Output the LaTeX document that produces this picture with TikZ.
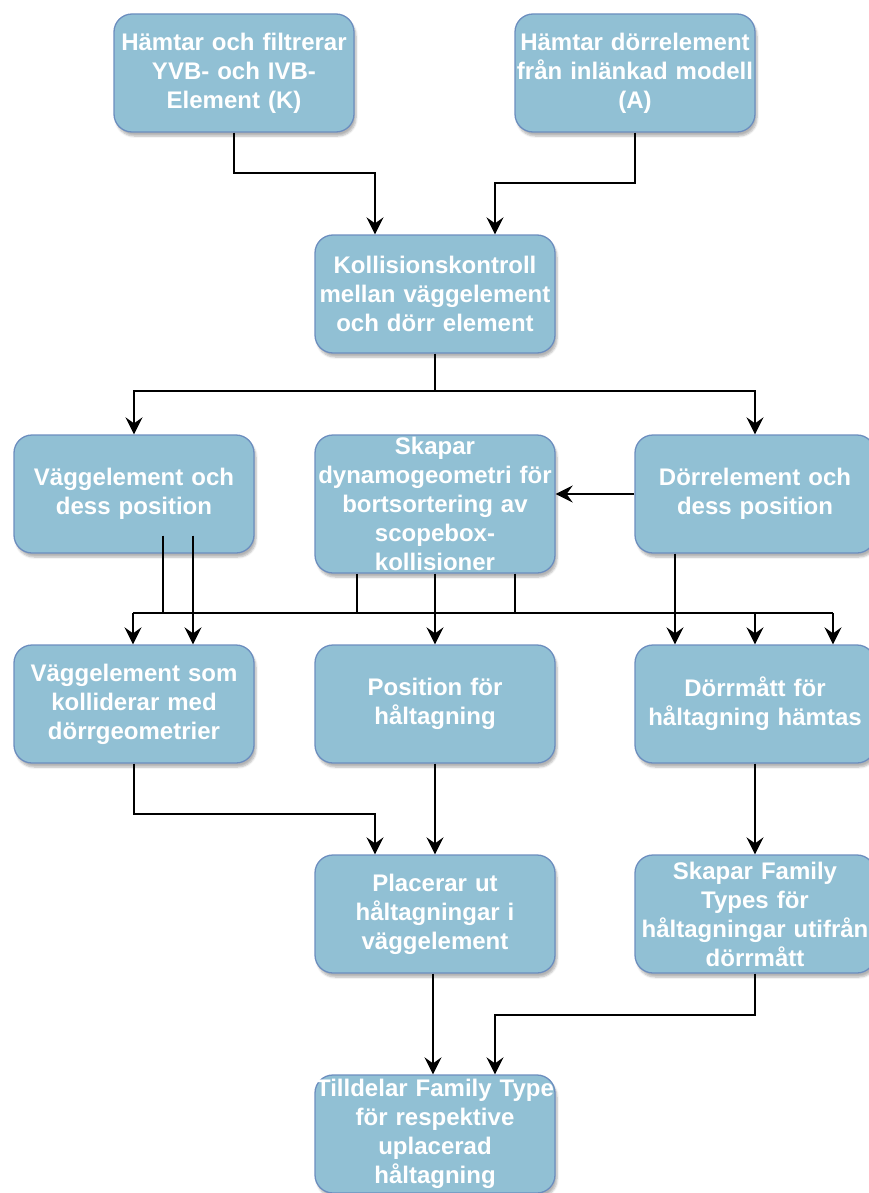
\documentclass[tikz,border=0pt]{standalone}
\usepackage{fontspec}
\setmainfont{Liberation Sans}
\usetikzlibrary{arrows.meta,shadows.blur}

\definecolor{boxfill}{RGB}{145,192,212}
\definecolor{boxline}{RGB}{108,142,191}

\begin{document}
\begin{tikzpicture}[x=1pt,y=-1pt,
  box/.style={draw=boxline, line width=1.3pt, fill=boxfill, rounded corners=18pt,
    minimum width=240pt, minimum height=118pt, text width=240pt, align=center,
    inner sep=0pt, text=white, font=\fontsize{24}{29}\selectfont\bfseries,
    blur shadow={shadow xshift=2pt, shadow yshift=-4pt, shadow blur steps=6, shadow opacity=30}},
  ln/.style={line width=2pt, line join=miter},
  arr/.style={ln, -{Stealth[length=17pt,width=17pt,inset=6pt]}}]

\useasboundingbox (0,0) rectangle (869,1193);

% process boxes
\node[box] (t1) at (234,73)  {Hämtar och filtrerar\\YVB- och IVB-\\Element (K)};
\node[box] (t2) at (635,73)  {Hämtar dörrelement\\från inlänkad modell\\(A)};
\node[box] (kk) at (435,294) {Kollisionskontroll\\mellan väggelement\\och dörr element};

\node[box] (va) at (134,494) {Väggelement och\\dess position};
\node[box, minimum height=138pt] (sk) at (435,504) {Skapar\\dynamogeometri för\\bortsortering av\\scopebox-\\kollisioner};
\node[box] (da) at (755,494) {Dörrelement och\\dess position};

\node[box] (vk) at (134,704) {Väggelement som\\kolliderar med\\dörrgeometrier};
\node[box] (po) at (435,704) {Position för\\håltagning};
\node[box] (dm) at (755,704) {Dörrmått för\\håltagning hämtas};

\node[box] (pl) at (435,914) {Placerar ut\\håltagningar i\\väggelement};
\node[box] (sf) at (755,914) {Skapar Family\\Types för\\håltagningar utifrån\\dörrmått};

\node[box] (ti) at (435,1134) {Tilldelar Family Type\\för respektive\\uplacerad\\håltagning};

% top row into the collision check
\draw[arr] (t1.south) -- ++(0,40) -| ([xshift=-60pt]kk.north);
\draw[arr] (t2.south) -- ++(0,50) -| ([xshift=60pt]kk.north);

% split after the collision check
\coordinate (kb) at ([yshift=-37pt]kk.south);
\draw[arr] (kk.south) -- (kb) -| (va.north);
\draw[arr] (kb) -| (da.north);

% door element feeds the dynamo geometry
\draw[arr] (da.west) -- (da.west -| sk.east);

% shared bus between the third and fourth rows
\coordinate (busL) at (133,613);
\coordinate (busR) at (833,613);
\draw[ln] (busL) -- (busR);
\draw[arr] (busL) -- (busL |- vk.north);
\draw[arr] (busR) -- (busR |- dm.north);
\draw[arr] (busL -| dm.north) -- (dm.north);

% lines leaving the wall element box
\draw[ln] ([xshift=29pt,yshift=18pt]va.south) -- ([xshift=29pt]va.south |- busL);
\draw[arr] ([xshift=59pt,yshift=18pt]va.south) -- ([xshift=59pt]vk.north);

% lines leaving the dynamo geometry box
\draw[ln] ([xshift=-78pt]sk.south) -- ([xshift=-78pt]sk.south |- busL);
\draw[ln] ([xshift=80pt]sk.south) -- ([xshift=80pt]sk.south |- busL);
\draw[arr] (sk.south) -- (po.north);

% line leaving the door element box
\draw[arr] ([xshift=-80pt]da.south) -- ([xshift=-80pt]dm.north);

% fourth row to fifth row
\draw[arr] (vk.south) -- ++(0,50) -| ([xshift=-60pt]pl.north);
\draw[arr] (po.south) -- (pl.north);
\draw[arr] (dm.south) -- (sf.north);

% fifth row to the final box
\draw[arr] ([xshift=-2pt]pl.south) -- ([xshift=-2pt]ti.north);
\draw[arr] (sf.south) -- ++(0,41) -| ([xshift=60pt]ti.north);
\end{tikzpicture}
\end{document}
